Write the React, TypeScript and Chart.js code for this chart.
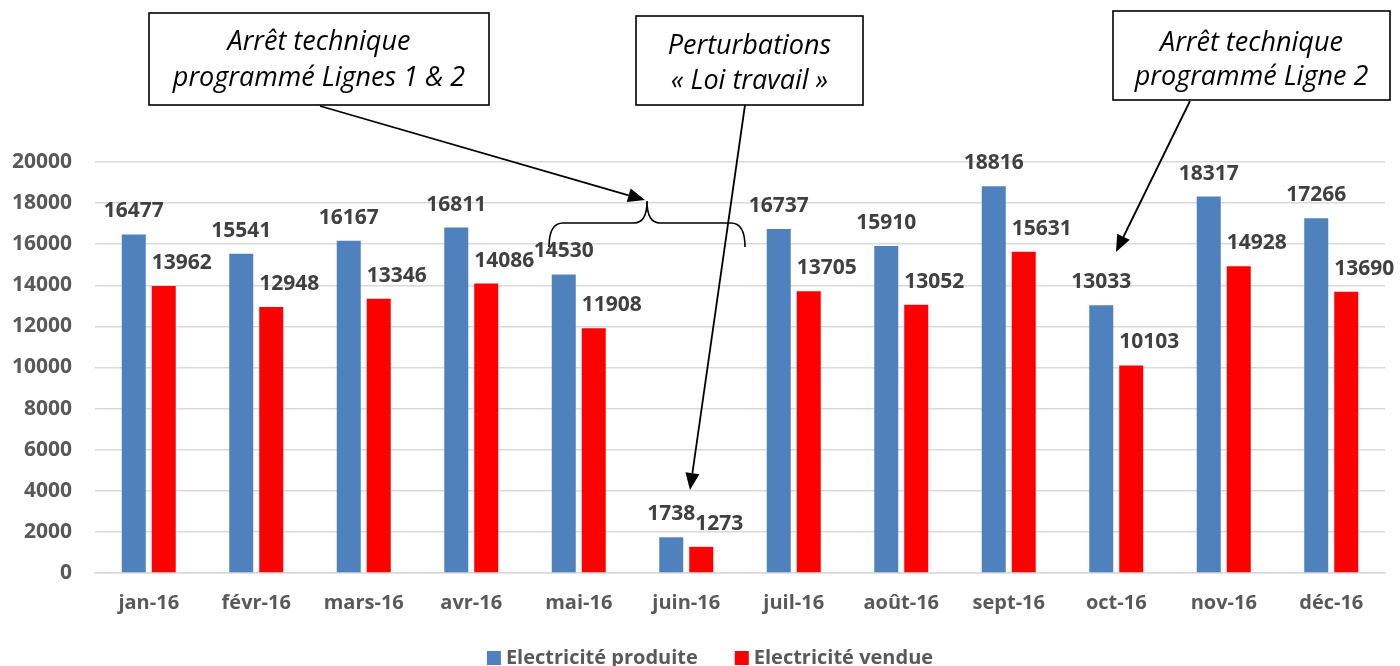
import React, { useEffect, useRef } from "react";
import { Chart, registerables } from "chart.js";

Chart.register(...registerables);

const categories = ["jan-16", "févr-16", "mars-16", "avr-16", "mai-16", "juin-16", "juil-16", "août-16", "sept-16", "oct-16", "nov-16", "déc-16"];
const produite = [16477, 15541, 16167, 16811, 14530, 1738, 16737, 15910, 18816, 13033, 18317, 17266];
const vendue = [13962, 12948, 13346, 14086, 11908, 1273, 13705, 13052, 15631, 10103, 14928, 13690];
const seriesNames = ["Electricité produite", "Electricité vendue"];
const yTicks = [0, 2000, 4000, 6000, 8000, 10000, 12000, 14000, 16000, 18000, 20000];

const BLUE = "#4F81BD";
const RED = "#FF0000";
const AXIS_TXT = "#595959";
const LABEL_TXT = "#404040";
const FONT = "'Open Sans', 'Liberation Sans', sans-serif";

function arrow(ctx: CanvasRenderingContext2D, x1: number, y1: number, x2: number, y2: number) {
  const ang = Math.atan2(y2 - y1, x2 - x1);
  const len = 17;
  const half = 7;
  const bx = x2 - len * Math.cos(ang);
  const by = y2 - len * Math.sin(ang);
  ctx.beginPath();
  ctx.moveTo(x1, y1);
  ctx.lineTo(bx, by);
  ctx.stroke();
  ctx.beginPath();
  ctx.moveTo(x2, y2);
  ctx.lineTo(bx + half * Math.sin(ang), by - half * Math.cos(ang));
  ctx.lineTo(bx - half * Math.sin(ang), by + half * Math.cos(ang));
  ctx.closePath();
  ctx.fill();
}

function box(ctx: CanvasRenderingContext2D, x: number, y: number, w: number, h: number, lines: string[], baselines: number[]) {
  ctx.fillStyle = "#ffffff";
  ctx.fillRect(x, y, w, h);
  ctx.strokeStyle = "#000";
  ctx.lineWidth = 1.6;
  ctx.strokeRect(x, y, w, h);
  ctx.fillStyle = "#000";
  ctx.font = `italic 27px ${FONT}`;
  ctx.textAlign = "center";
  ctx.textBaseline = "alphabetic";
  lines.forEach((l, i) => ctx.fillText(l, x + w / 2, baselines[i]));
}

const annotationPlugin = {
  id: "annotations",
  afterDraw(chart: any) {
    const ctx: CanvasRenderingContext2D = chart.ctx;
    ctx.save();
    // data labels
    ctx.font = `bold 21px ${FONT}`;
    ctx.fillStyle = LABEL_TXT;
    ctx.textAlign = "center";
    ctx.textBaseline = "alphabetic";
    chart.data.datasets.forEach((ds: any, di: number) => {
      const meta = chart.getDatasetMeta(di);
      meta.data.forEach((el: any, i: number) => {
        const dx = di === 0 ? 0 : 18;
        ctx.fillText(String(ds.data[i]), el.x + dx, el.y - 17);
      });
    });

    // boxes
    box(ctx, 149, 13, 340, 92, ["Arrêt technique", "programmé Lignes 1 & 2"], [50, 86]);
    box(ctx, 636, 16, 227, 89, ["Perturbations", "« Loi travail »"], [54, 89]);
    box(ctx, 1113, 11, 277, 89, ["Arrêt technique", "programmé Ligne 2"], [51, 85]);

    // brace
    ctx.strokeStyle = "#000";
    ctx.fillStyle = "#000";
    ctx.lineWidth = 1.6;
    ctx.beginPath();
    ctx.moveTo(549, 247);
    ctx.quadraticCurveTo(549, 223, 563, 223);
    ctx.lineTo(634, 223);
    ctx.quadraticCurveTo(647, 223, 647, 201);
    ctx.quadraticCurveTo(647, 223, 660, 223);
    ctx.lineTo(731, 223);
    ctx.quadraticCurveTo(745, 223, 745, 247);
    ctx.stroke();

    // arrows
    ctx.lineWidth = 1.8;
    arrow(ctx, 320, 106, 645, 200);
    arrow(ctx, 745, 105, 690, 490);
    arrow(ctx, 1190, 101, 1116, 252);

    // legend
    ctx.font = `bold 20px ${FONT}`;
    ctx.textAlign = "left";
    ctx.textBaseline = "middle";
    const colors = [BLUE, RED];
    const boxS = 14, gapT = 5, gapItem = 37;
    const widths = seriesNames.map((n) => ctx.measureText(n).width);
    const total = widths.reduce((a, w) => a + boxS + gapT + w, 0) + gapItem;
    let x = 710 - total / 2;
    const cy = 658;
    seriesNames.forEach((n, i) => {
      ctx.fillStyle = colors[i];
      ctx.fillRect(x, cy - boxS / 2, boxS, boxS);
      x += boxS + gapT;
      ctx.fillStyle = AXIS_TXT;
      ctx.fillText(n, x, cy);
      x += widths[i] + gapItem;
    });
    ctx.restore();
  },
};

export default function App() {
  const ref = useRef<HTMLCanvasElement>(null);
  useEffect(() => {
    if (!ref.current) return;
    const chart = new Chart(ref.current, {
      type: "bar",
      data: {
        labels: categories,
        datasets: [
          { label: seriesNames[0], data: produite, backgroundColor: BLUE, categoryPercentage: 0.558, barPercentage: 0.8 },
          { label: seriesNames[1], data: vendue, backgroundColor: RED, categoryPercentage: 0.558, barPercentage: 0.8 },
        ],
      },
      options: {
        responsive: false,
        animation: false,
        devicePixelRatio: 1,
        layout: { padding: { top: 162, right: 15, bottom: 0, left: 0 } },
        plugins: { legend: { display: false }, tooltip: { enabled: false } },
        scales: {
          x: {
            grid: { display: false, drawTicks: false },
            border: { display: true, color: "#D9D9D9", width: 1.5 },
            ticks: { color: AXIS_TXT, font: { family: FONT, size: 20, weight: "bold" }, padding: 18, maxRotation: 0 },
            afterFit: (s: any) => { s.height = 93; },
          },
          y: {
            min: 0,
            max: 20000,
            afterBuildTicks: (s: any) => { s.ticks = yTicks.map((v) => ({ value: v })); },
            grid: { color: "#D9D9D9", lineWidth: 1.5, drawTicks: false },
            border: { display: false },
            ticks: { color: AXIS_TXT, font: { family: FONT, size: 21, weight: "bold" }, padding: 23, callback: (v: any) => String(v) },
            afterFit: (s: any) => { s.width = 95; },
          },
        },
      },
      plugins: [annotationPlugin],
    } as any);
    return () => chart.destroy();
  }, []);
  return (
    <div style={{ position: "absolute", left: 0, top: 0, width: 1400, height: 666, background: "#fff" }}>
      <canvas ref={ref} width={1400} height={666} style={{ width: 1400, height: 666 }} />
    </div>
  );
}
